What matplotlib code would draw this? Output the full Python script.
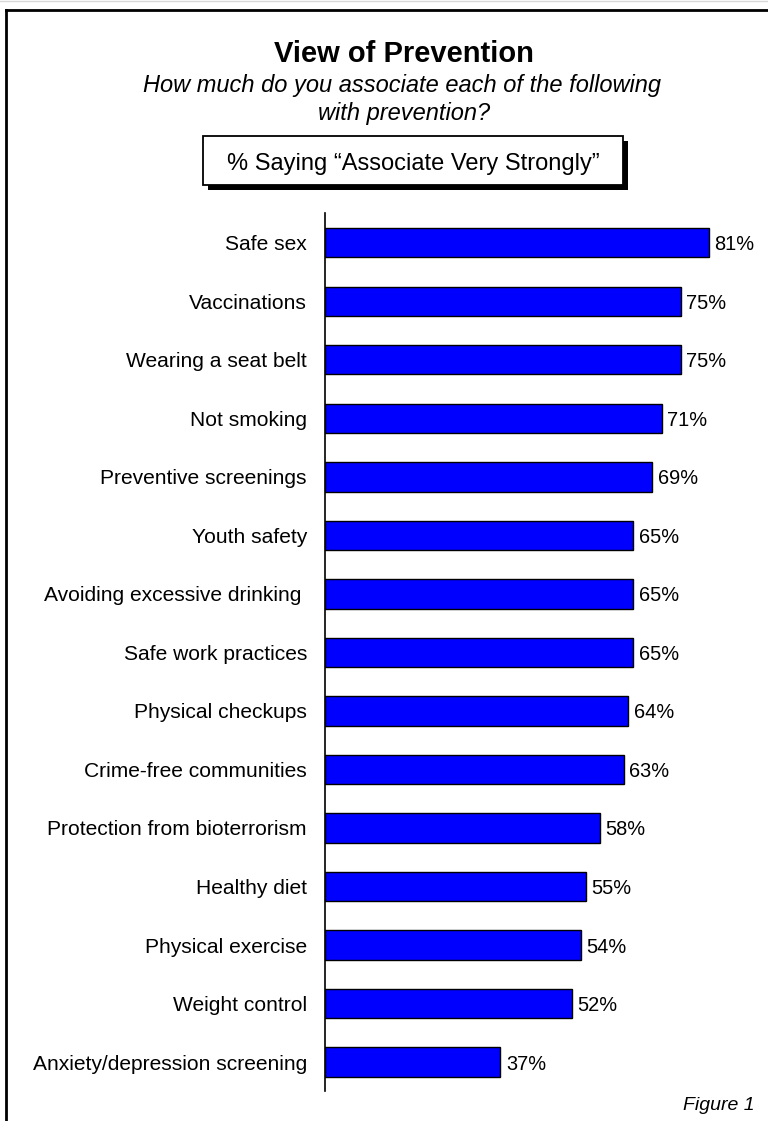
import matplotlib
matplotlib.use("Agg")
import matplotlib.pyplot as plt
from matplotlib.patches import Rectangle
from matplotlib.lines import Line2D

plt.rcParams['font.family'] = ['Liberation Sans', 'DejaVu Sans']

categories = [
    "Safe sex",
    "Vaccinations",
    "Wearing a seat belt",
    "Not smoking",
    "Preventive screenings",
    "Youth safety",
    "Avoiding excessive drinking ",
    "Safe work practices",
    "Physical checkups",
    "Crime-free communities",
    "Protection from bioterrorism",
    "Healthy diet",
    "Physical exercise",
    "Weight control",
    "Anxiety/depression screening",
]
values = [81, 75, 75, 71, 69, 65, 65, 65, 64, 63, 58, 55, 54, 52, 37]
value_labels = [f"{v}%" for v in values]

title = "View of Prevention"
subtitle_lines = ["How much do you associate each of the following",
                  "with prevention?"]
box_text = "% Saying \u201cAssociate Very Strongly\u201d"
figure_note = "Figure 1"

W, H = 768, 1121
fig = plt.figure(figsize=(W / 100, H / 100), dpi=100)


def fx(px):
    return px / W


def fy(py):
    return 1 - py / H


# outer frame (left and top rules)
fig.add_artist(Line2D([fx(6), fx(6)], [fy(10), fy(H + 5)], color="black",
                      lw=2.0, transform=fig.transFigure))
fig.add_artist(Line2D([fx(6), fx(W + 5)], [fy(10), fy(10)], color="black",
                      lw=2.0, transform=fig.transFigure))
fig.add_artist(Line2D([0, 1], [fy(1), fy(1)], color="#d8d8d8",
                      lw=1.0, transform=fig.transFigure))

# headings
fig.text(fx(404), fy(62), title, ha="center", va="baseline",
         fontsize=21, fontweight="bold")
fig.text(fx(402), fy(92), subtitle_lines[0],
         ha="center", va="baseline", fontsize=17, style="italic")
fig.text(fx(404), fy(120), subtitle_lines[1],
         ha="center", va="baseline", fontsize=17, style="italic")

# boxed caption with drop shadow
bx0, bx1, by0, by1 = 203, 623, 136, 185
fig.add_artist(Rectangle((fx(bx0 + 5), fy(by1 + 5)), fx(bx1 - bx0), (by1 - by0) / H,
                         transform=fig.transFigure, facecolor="black",
                         edgecolor="none"))
fig.add_artist(Rectangle((fx(bx0), fy(by1)), fx(bx1 - bx0), (by1 - by0) / H,
                         transform=fig.transFigure, facecolor="white",
                         edgecolor="black", lw=1.3))
fig.text(fx(413), fy(170), box_text, ha="center", va="baseline",
         fontsize=17)

# bar chart
ax_left, ax_top, ax_bottom = 325, 212.7, 1090.7
px_per_unit = (709 - 325) / 81
xmax = 90
ax = fig.add_axes([fx(ax_left), fy(ax_bottom), fx(xmax * px_per_unit),
                   (ax_bottom - ax_top) / H])
ypos = list(range(len(categories)))
ax.barh(ypos, values, height=0.5, color="#0000FF", edgecolor="black",
        linewidth=1.0)
ax.set_xlim(0, xmax)
ax.set_ylim(14.49, -0.515)
ax.set_yticks(ypos)
ax.set_yticklabels(categories, fontsize=15.1)
ax.tick_params(axis="y", length=0, pad=13)
ax.set_xticks([])
for s in ["top", "right", "bottom"]:
    ax.spines[s].set_visible(False)
ax.spines["left"].set_linewidth(1.2)
ax.patch.set_alpha(0)

for y, v, lab in zip(ypos, values, value_labels):
    ax.annotate(lab, xy=(v, y), xytext=(4, 0), textcoords="offset points",
                ha="left", va="center_baseline", fontsize=14.4)

fig.text(fx(755), fy(1110), figure_note, ha="right", va="baseline",
         fontsize=14, style="italic")

fig.savefig("out.png", dpi=100, facecolor="white")
